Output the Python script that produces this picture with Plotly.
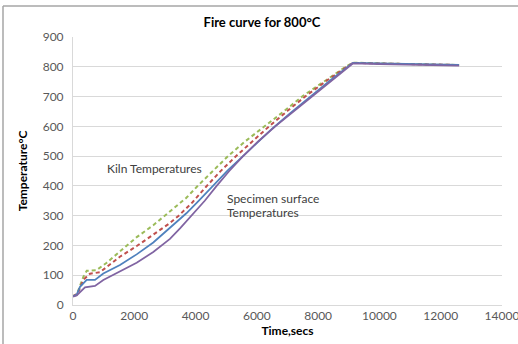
import plotly.graph_objects as go

# Kiln thermocouples (dashed) and specimen surface thermocouples (solid)
kiln_a_t = [0, 120, 250, 340, 450, 770, 1100, 1640, 2080, 2620, 3000, 3700, 4050, 4500,
            5060, 5600, 6300, 6900, 7500, 8200, 8900, 9130, 10000, 11000, 12000, 12600]
kiln_a_T = [30, 34, 70, 95, 115, 117, 142, 190, 228, 268, 300, 360, 398, 445,
            500, 548, 603, 652, 702, 752, 800, 814, 811, 809, 807, 806]

kiln_b_t = [0, 150, 340, 555, 880, 1530, 2080, 2620, 3160, 3450, 3900, 4350, 4800, 5300,
            5850, 6400, 7000, 7600, 8300, 8950, 9130, 10000, 11000, 12000, 12600]
kiln_b_T = [30, 38, 85, 105, 110, 162, 198, 236, 275, 300, 345, 398, 448, 498,
            550, 600, 652, 702, 755, 802, 813, 811, 809, 807, 806]

spec_a_t = [0, 120, 228, 447, 718, 989, 1533, 2077, 2620, 3164, 3700, 4100, 4550, 5050,
            5600, 6050, 6500, 7100, 7700, 8400, 9130, 10000, 11000, 12000, 12600]
spec_a_T = [30, 35, 61, 84, 84, 106, 134, 170, 210, 258, 308, 350, 400, 452,
            505, 548, 592, 645, 697, 755, 813, 811, 809, 807, 806]

spec_b_t = [0, 120, 391, 718, 989, 1533, 2077, 2620, 3164, 3500, 3873, 4300, 4688, 5100,
            5550, 6050, 6600, 7200, 7800, 8450, 9130, 10000, 11000, 12000, 12600]
spec_b_T = [28, 32, 59, 64, 84, 112, 142, 178, 222, 258, 300, 350, 400, 450,
            500, 550, 600, 650, 700, 755, 811, 809, 807, 805, 804]

x_ticks = [0, 2000, 4000, 6000, 8000, 10000, 12000, 14000]
x_labels = ["0", "2000", "4000", "6000", "8000", "10000", "12000", "14000"]
y_ticks = [0, 100, 200, 300, 400, 500, 600, 700, 800, 900]

FONT = "Lato"
TICK_COLOR = "#595959"
GRID = "#d9d9d9"

fig = go.Figure()
fig.add_trace(go.Scatter(x=kiln_a_t, y=kiln_a_T, mode="lines",
                         line=dict(color="#9BBB59", width=2, dash="4px,3px")))
fig.add_trace(go.Scatter(x=kiln_b_t, y=kiln_b_T, mode="lines",
                         line=dict(color="#C0504D", width=2, dash="4px,3px")))
fig.add_trace(go.Scatter(x=spec_a_t, y=spec_a_T, mode="lines",
                         line=dict(color="#4F81BD", width=1.75)))
fig.add_trace(go.Scatter(x=spec_b_t, y=spec_b_T, mode="lines",
                         line=dict(color="#8064A2", width=1.75)))

fig.update_layout(
    width=518, height=344,
    margin=dict(l=73, r=16, t=37, b=39, autoexpand=False),
    paper_bgcolor="white", plot_bgcolor="white",
    showlegend=False,
    font=dict(family=FONT, size=12, color=TICK_COLOR),
    title=dict(text="<b>Fire curve for 800°C</b>", x=262 / 518, xref="container",
               xanchor="center", y=1 - 22 / 344, yref="container", yanchor="middle",
               font=dict(family=FONT, size=13, color="#000000")),
    xaxis=dict(range=[0, 14000], tickvals=x_ticks, ticktext=x_labels, showgrid=False,
               showline=True, linecolor=GRID, linewidth=1, ticks="", automargin=False,
               ticklabeloverflow="allow",
               zeroline=False, tickfont=dict(size=12, color=TICK_COLOR),
               title=dict(text="<b>Time,secs</b>", standoff=4,
                          font=dict(family=FONT, size=12, color="#000000"))),
    yaxis=dict(range=[0, 900], tickvals=y_ticks, showgrid=True, gridcolor=GRID,
               gridwidth=1, showline=True, linecolor=GRID, linewidth=1, ticks="",
               zeroline=False, ticklabelstandoff=6, automargin=False,
               ticklabeloverflow="allow",
               tickfont=dict(size=12, color=TICK_COLOR),
               title=dict(text="<b>Temperature°C</b>", standoff=12,
                          font=dict(family=FONT, size=12, color="#000000"))),
)

fig.add_annotation(x=1044, y=460, text="Kiln Temperatures", showarrow=False,
                   xanchor="left", yanchor="middle",
                   font=dict(family=FONT, size=12, color="#404040"))
fig.add_annotation(x=4960, y=359, text="Specimen surface", showarrow=False,
                   xanchor="left", yanchor="middle",
                   font=dict(family=FONT, size=12, color="#404040"))
fig.add_annotation(x=4960, y=309, text="Temperatures", showarrow=False,
                   xanchor="left", yanchor="middle",
                   font=dict(family=FONT, size=12, color="#404040"))

# Chart frame: left and top edges
fig.add_shape(type="line", xref="paper", yref="paper",
              x0=(3 - 73) / 429, x1=(3 - 73) / 429, y0=(305 - 344) / 268, y1=(305 - 6) / 268,
              line=dict(color="#a6a6a6", width=1.5))
fig.add_shape(type="line", xref="paper", yref="paper",
              x0=(3 - 73) / 429, x1=(518 - 73) / 429, y0=(305 - 6) / 268, y1=(305 - 6) / 268,
              line=dict(color="#a6a6a6", width=1.5))

fig.write_html("out.html")
